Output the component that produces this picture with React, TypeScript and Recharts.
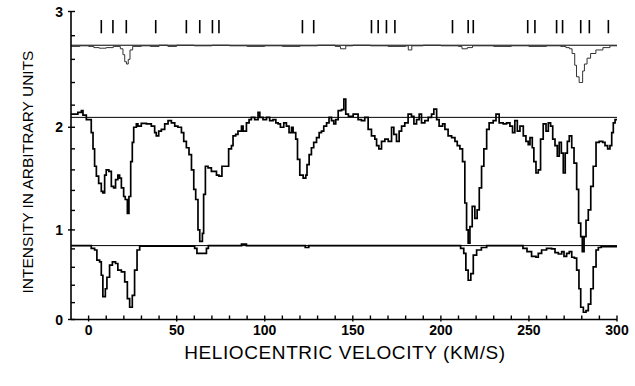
import React from "react"
import { LineChart, Line, XAxis, YAxis, ReferenceLine, Label } from "recharts"

// velocity (km/s) / intensity pairs
const topVel = [-10, -5, 0, 3, 6, 10, 14, 18, 19.5, 20.5, 21.5, 22.5, 23.5, 25, 30, 35, 40, 45, 50, 60, 70, 80, 90, 100, 110, 120, 130, 140, 143, 146, 150, 160, 170, 180, 181.5, 183.5, 190, 200, 210, 212, 215, 218, 230, 240, 250, 260, 268, 271, 273, 274.5, 276, 277, 278.5, 279.5, 280.5, 281.5, 283, 285, 288, 292, 296, 300]
const topVal = [2.71, 2.715, 2.71, 2.7, 2.695, 2.7, 2.71, 2.69, 2.64, 2.58, 2.56, 2.6, 2.68, 2.71, 2.715, 2.71, 2.72, 2.71, 2.72, 2.715, 2.72, 2.715, 2.71, 2.715, 2.71, 2.715, 2.72, 2.71, 2.69, 2.715, 2.72, 2.715, 2.71, 2.715, 2.68, 2.715, 2.72, 2.715, 2.71, 2.69, 2.7, 2.715, 2.71, 2.715, 2.71, 2.715, 2.71, 2.7, 2.69, 2.65, 2.55, 2.45, 2.4, 2.4, 2.5, 2.56, 2.61, 2.65, 2.68, 2.7, 2.715, 2.715]

const midVel = [-10, -6.1, -4.1, -3.2, -1.3, 1.5, 2.5, 3.4, 4.4, 5.7, 7.2, 8.1, 9.1, 10, 11.5, 12.9, 14.2, 15.3, 16.6, 17.6, 18.6, 19.9, 20.8, 22, 22.9, 23.9, 24.8, 25.6, 27.1, 28, 29.9, 32.8, 35.6, 37.5, 38.4, 39.8, 41.3, 43.2, 45.1, 47, 48.9, 50.7, 52.7, 54, 55.5, 57, 58.4, 59.7, 60.8, 62.1, 63.1, 64.6, 65.3, 66.3, 67.8, 69.7, 72.6, 74, 75.7, 78.2, 79.5, 81.1, 82, 83.5, 84.8, 86.8, 87.7, 89.6, 91.1, 92.4, 94.3, 96.2, 97.2, 99, 101, 102.8, 104.7, 106.3, 107.6, 108.9, 110.8, 112.3, 113.8, 115.2, 116.1, 117.6, 118.6, 119.9, 121.8, 123.3, 124, 125.2, 126.5, 127.8, 129.4, 130.9, 132.2, 133.5, 135.1, 136.5, 137.9, 139.2, 140.3, 141.7, 143.6, 144.9, 146, 147.5, 150.2, 153, 154.9, 156.8, 158.7, 160.6, 162.5, 163.5, 164.8, 166.3, 168.2, 170.1, 172, 173.3, 174.8, 176.3, 177.7, 179.5, 181.4, 183.3, 184.7, 186.2, 187.7, 189, 190.9, 192.8, 194.7, 196, 197.6, 199, 201, 202.3, 204.1, 206.1, 208, 209.3, 210.8, 212.3, 213.6, 214.6, 215.5, 216.5, 217.8, 219.3, 220.6, 221.8, 223.1, 224.4, 226, 227.4, 229.7, 231.3, 233.1, 235.4, 237.3, 239.2, 240.7, 242, 243.4, 244.9, 246.8, 248.3, 249.6, 250.6, 251.9, 252.8, 254, 255.3, 256.6, 258.1, 259.7, 261, 262.3, 263.5, 264.8, 266.1, 267.2, 268.4, 269.5, 270.6, 271.8, 272.9, 274.3, 275.6, 277.1, 278.2, 279.4, 280.3, 281.3, 282.4, 283.7, 285.1, 286.5, 288.1, 289.9, 291.9, 293.2, 294.7, 296, 297, 297.9, 298.9, 300]
const midVal = [2.12, 2.135, 2.15, 2.11, 2.07, 1.95, 1.8, 1.635, 1.54, 1.47, 1.39, 1.375, 1.55, 1.6, 1.585, 1.44, 1.425, 1.505, 1.55, 1.52, 1.425, 1.34, 1.31, 1.17, 1.34, 1.68, 1.86, 2.0, 2.03, 2.01, 2.035, 2.03, 2.01, 1.95, 1.92, 1.965, 1.98, 2.03, 2.06, 2.04, 2.01, 2.0, 1.95, 1.87, 1.81, 1.745, 1.6, 1.41, 1.31, 1.0, 0.88, 0.965, 1.36, 1.635, 1.62, 1.585, 1.55, 1.54, 1.635, 1.635, 1.8, 1.83, 1.92, 1.935, 1.965, 2.01, 1.965, 2.04, 2.07, 2.09, 2.07, 2.135, 2.09, 2.07, 2.09, 2.06, 2.07, 2.04, 2.03, 2.0, 2.04, 2.01, 1.95, 2.0, 1.95, 1.89, 1.7, 1.55, 1.52, 1.55, 1.65, 1.745, 1.81, 1.86, 1.905, 1.95, 1.965, 2.01, 2.04, 2.09, 2.06, 2.03, 2.07, 2.15, 2.16, 2.254, 2.12, 2.1, 2.12, 2.07, 2.06, 2.09, 1.98, 1.92, 1.89, 1.83, 1.8, 1.87, 1.89, 1.87, 2.0, 1.935, 1.87, 1.965, 2.01, 2.04, 2.12, 2.1, 2.03, 2.07, 2.12, 2.04, 2.06, 2.09, 2.12, 2.164, 2.07, 2.01, 2.03, 1.98, 1.92, 1.905, 1.87, 1.83, 1.8, 1.68, 1.275, 1.0, 0.86, 1.035, 1.24, 1.12, 1.206, 1.425, 1.635, 1.8, 1.98, 2.04, 2.06, 2.12, 2.04, 2.03, 2.04, 2.01, 1.95, 2.06, 1.965, 2.01, 1.92, 1.87, 1.84, 1.905, 1.81, 1.68, 1.57, 1.6, 1.89, 2.03, 1.965, 2.04, 2.01, 1.89, 1.83, 1.73, 1.86, 1.76, 1.57, 1.76, 1.87, 1.92, 1.81, 1.665, 1.41, 1.07, 0.93, 0.77, 0.93, 1.1, 1.206, 1.44, 1.635, 1.86, 1.87, 1.86, 1.83, 1.8, 1.83, 1.95, 2.04, 2.07, 2.07]

const lowVel = [-10, 1.5, 3.4, 4.7, 6.25, 7.2, 8.1, 9.5, 10.4, 11.9, 13.5, 15.3, 16.6, 18.6, 20.5, 22, 23.3, 24.8, 26.1, 27.5, 29, 60.2, 61.5, 66.9, 68, 86.8, 89.6, 123, 125, 211.2, 213, 214.2, 215.5, 217, 218.4, 220.3, 223, 226, 246.6, 248.9, 251.5, 254, 255.3, 257.2, 260, 262.9, 264.8, 266.7, 268.6, 269.9, 271.4, 272.9, 274.3, 275.8, 277.1, 278.4, 279.4, 280.9, 282.4, 283.7, 285.1, 286.5, 288.1, 289.4, 291, 300]
const lowVal = [0.835, 0.806, 0.788, 0.679, 0.66, 0.512, 0.27, 0.36, 0.49, 0.624, 0.66, 0.642, 0.568, 0.55, 0.437, 0.246, 0.146, 0.284, 0.568, 0.788, 0.83, 0.806, 0.752, 0.806, 0.835, 0.85, 0.835, 0.815, 0.835, 0.806, 0.752, 0.568, 0.456, 0.53, 0.733, 0.788, 0.815, 0.835, 0.806, 0.77, 0.72, 0.71, 0.752, 0.788, 0.806, 0.8, 0.76, 0.745, 0.77, 0.72, 0.752, 0.77, 0.71, 0.7, 0.568, 0.36, 0.146, 0.087, 0.107, 0.183, 0.36, 0.605, 0.788, 0.815, 0.825, 0.83]

const continuumLevels = [2.72, 2.09, 0.835]
const markerVel = [7.2, 13.8, 21.4, 38.1, 55.5, 63.1, 70.3, 74, 121.4, 127.8, 160.6, 164.4, 169.1, 173.9, 206.6, 215.5, 218.4, 249.3, 253.4, 265.7, 269.1, 279.4, 284.3, 295.1]
const markerSpan = [2.82, 2.93]

const xTicks = Array.from({ length: 31 }, (_, i) => i * 10)
const yTickVals = Array.from({ length: 16 }, (_, i) => Math.round(i * 2) / 10)

// the scanned axis gets stretched toward the top, this follows its tick spacing
const warp = (v: number) => (82.5 * v + 6.5 * v * v) / 102

const toRows = (vel: number[], val: number[]) => vel.map((x, i) => ({ x, y: warp(val[i]) }))

const tickFont = { fontFamily: "Liberation Sans, Arial, sans-serif", fontWeight: 700, fontSize: 14 }
const titleFont = { fontFamily: "Liberation Sans, Arial, sans-serif" }

const BottomTick = ({ x, y, payload }: any) => {
  const major = payload.value % 50 === 0
  return (
    <g>
      <line x1={x} x2={x} y1={y + (major ? 2 : 0)} y2={y - 4} stroke="#000" strokeWidth={1.4} />
      {major && (
        <text x={x} y={y + 15} textAnchor="middle" fill="#000" style={tickFont}>
          {payload.value}
        </text>
      )}
    </g>
  )
}

const TopTick = ({ x, y }: any) => (
  <line x1={x} x2={x} y1={y} y2={y + 5} stroke="#000" strokeWidth={1.4} />
)

const LeftTick = ({ x, y, index }: any) => {
  const v = yTickVals[index]
  const major = Number.isInteger(v)
  return (
    <g>
      <line x1={x - (major ? 3 : 0)} x2={x + 4} y1={y} y2={y} stroke="#000" strokeWidth={1.4} />
      {major && (
        <text x={x - 8} y={y + 5} textAnchor="end" fill="#000" style={tickFont}>
          {v}
        </text>
      )}
    </g>
  )
}

const RightTick = ({ x, y }: any) => (
  <line x1={x} x2={x - 5} y1={y} y2={y} stroke="#000" strokeWidth={1.4} />
)

export default function App() {
  const axisLine = { stroke: "#000", strokeWidth: 1.6 }
  const yTicks = yTickVals.map(warp)
  const yDomain = [0, warp(3)]

  return (
    <div style={{ position: "absolute", left: 0, top: 0, background: "#fff" }}>
      <LineChart width={635} height={386} margin={{ top: 11.5, right: 18, bottom: 38.5, left: 0 }}>
        <XAxis
          dataKey="x"
          type="number"
          domain={[-10, 300]}
          allowDataOverflow
          ticks={xTicks}
          interval={0}
          height={28}
          tickSize={0}
          tickMargin={0}
          tickLine={false}
          axisLine={axisLine}
          tick={(p: any) => <BottomTick {...p} />}
        >
          <Label
            content={() => (
              <text
                x={345}
                y={359}
                textAnchor="middle"
                fill="#000"
                style={{ ...titleFont, fontSize: 19, letterSpacing: 0.6 }}
              >
                HELIOCENTRIC VELOCITY (KM/S)
              </text>
            )}
          />
        </XAxis>
        <XAxis
          xAxisId="top"
          orientation="top"
          dataKey="x"
          type="number"
          domain={[-10, 300]}
          allowDataOverflow
          ticks={xTicks}
          interval={0}
          height={0}
          tickSize={0}
          tickMargin={0}
          tickLine={false}
          axisLine={axisLine}
          tick={(p: any) => <TopTick {...p} />}
        />
        <YAxis
          type="number"
          domain={yDomain}
          allowDataOverflow
          ticks={yTicks}
          interval={0}
          width={71}
          tickSize={0}
          tickMargin={0}
          tickLine={false}
          axisLine={axisLine}
          tick={(p: any) => <LeftTick {...p} />}
        >
          <Label
            content={() => (
              <text
                transform="translate(33,172) rotate(-90)"
                textAnchor="middle"
                fill="#000"
                style={{ ...titleFont, fontSize: 15.5 }}
              >
                INTENSITY IN ARBITRARY UNITS
              </text>
            )}
          />
        </YAxis>
        <YAxis
          yAxisId="right"
          orientation="right"
          type="number"
          domain={yDomain}
          allowDataOverflow
          ticks={yTicks}
          interval={0}
          width={0}
          tickSize={0}
          tickMargin={0}
          tickLine={false}
          axisLine={axisLine}
          tick={(p: any) => <RightTick {...p} />}
        />

        {continuumLevels.map((lvl) => (
          <ReferenceLine key={lvl} y={warp(lvl)} stroke="#000" strokeWidth={1} />
        ))}
        {markerVel.map((v) => (
          <ReferenceLine
            key={v}
            segment={[
              { x: v, y: warp(markerSpan[0]) },
              { x: v, y: warp(markerSpan[1]) },
            ]}
            stroke="#000"
            strokeWidth={1.6}
          />
        ))}

        <Line
          data={toRows(topVel, topVal)}
          dataKey="y"
          type="stepAfter"
          stroke="#333"
          strokeWidth={1}
          dot={false}
          isAnimationActive={false}
        />
        <Line
          data={toRows(midVel, midVal)}
          dataKey="y"
          type="stepAfter"
          stroke="#000"
          strokeWidth={1.7}
          dot={false}
          isAnimationActive={false}
        />
        <Line
          data={toRows(lowVel, lowVal)}
          dataKey="y"
          type="stepAfter"
          stroke="#000"
          strokeWidth={1.7}
          dot={false}
          isAnimationActive={false}
        />
      </LineChart>
    </div>
  )
}
